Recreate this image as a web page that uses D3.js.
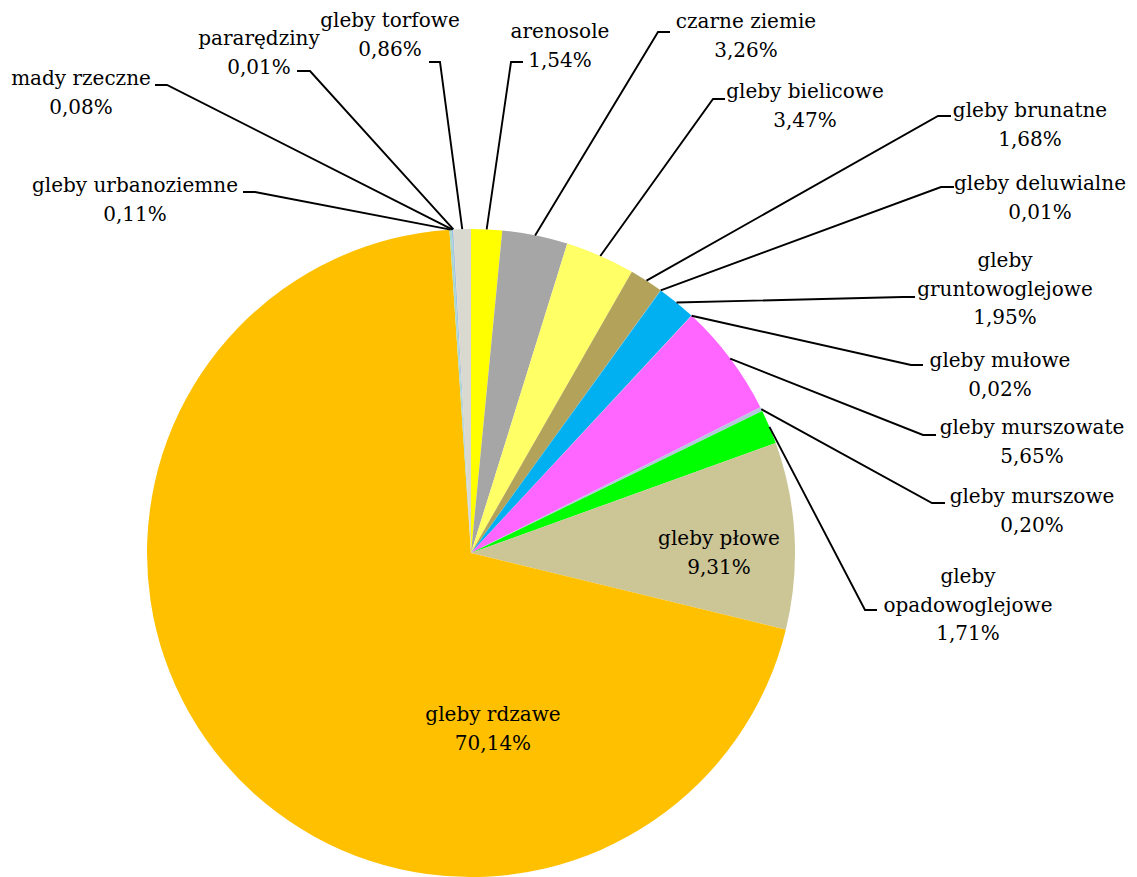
<!DOCTYPE html>
<html lang="pl">
<head>
<meta charset="utf-8">
<script src="https://cdn.jsdelivr.net/npm/d3@7"></script>
<style>
  html, body { margin: 0; padding: 0; background: #fff; }
</style>
</head>
<body>
<svg id="chart" width="1137" height="877"></svg>
<script>
// Soil types and their share of the area (%), clockwise from 12 o'clock
const categories = [
  "arenosole", "czarne ziemie", "gleby bielicowe", "gleby brunatne",
  "gleby deluwialne", "gleby gruntowoglejowe", "gleby mułowe",
  "gleby murszowate", "gleby murszowe", "gleby opadowoglejowe",
  "gleby płowe", "gleby rdzawe", "gleby urbanoziemne", "mady rzeczne",
  "pararędziny", "gleby torfowe"
];
const shares = [
  1.54, 3.26, 3.47, 1.68,
  0.01, 1.95, 0.02,
  5.65, 0.20, 1.71,
  9.31, 70.14, 0.11, 0.08,
  0.01, 0.86
];
const colors = [
  "#FFFF00", "#A6A6A6", "#FFFF66", "#B3A35A",
  "#8FAADC", "#00B0F0", "#C9A0DC",
  "#FF66FF", "#B4C7DC", "#00FF00",
  "#CCC596", "#FFC000", "#A9D8C8", "#9DC3E6",
  "#F4B183", "#D9D9D0"
];
// How each label is broken into lines
const labelLines = [
  ["arenosole"], ["czarne ziemie"], ["gleby bielicowe"], ["gleby brunatne"],
  ["gleby deluwialne"], ["gleby", "gruntowoglejowe"], ["gleby mułowe"],
  ["gleby murszowate"], ["gleby murszowe"], ["gleby", "opadowoglejowe"],
  ["gleby płowe"], ["gleby rdzawe"], ["gleby urbanoziemne"], ["mady rzeczne"],
  ["pararędziny"], ["gleby torfowe"]
];

// Label layout: text centre x, first baseline y, leader elbow (ex, ey) and tick end x (tx); inside labels have no leader
const labelLayout = [
  { x: 560,  y: 38,  ex: 511, ey: 62,  tx: 523 },
  { x: 746,  y: 28,  ex: 658, ey: 32,  tx: 670 },
  { x: 805,  y: 98,  ex: 713, ey: 99,  tx: 725 },
  { x: 1030, y: 117, ex: 938, ey: 116, tx: 951 },
  { x: 1040, y: 190, ex: 941, ey: 187, tx: 954 },
  { x: 1005, y: 267, ex: 903, ey: 297, tx: 915 },
  { x: 1000, y: 367, ex: 911, ey: 365, tx: 923 },
  { x: 1032, y: 434, ex: 923, ey: 435, tx: 936 },
  { x: 1032, y: 503, ex: 932, ey: 503, tx: 945 },
  { x: 968,  y: 583, ex: 865, ey: 610, tx: 877 },
  { x: 719,  y: 545 },
  { x: 493,  y: 721 },
  { x: 135,  y: 192, ex: 255, ey: 192, tx: 243 },
  { x: 81,   y: 85,  ex: 167, ey: 85,  tx: 155 },
  { x: 259,  y: 45,  ex: 310, ey: 71,  tx: 297 },
  { x: 390,  y: 27,  ex: 440, ey: 62,  tx: 429 }
];

const fmt = v => d3.format(".2f")(v).replace(".", ",") + "%";

const svg = d3.select("#chart");
const cx = 471, cy = 553, radius = 324;
const fontSize = 20, lineGap = 28.5;
const fontFamily = "'DejaVu Serif', serif";

const data = categories.map((c, i) => ({
  name: c, value: shares[i], color: colors[i],
  lines: labelLines[i], layout: labelLayout[i]
}));

const pie = d3.pie().value(d => d.value).sort(null)
  .startAngle(0).endAngle(2 * Math.PI);
const arcs = pie(data);
const arc = d3.arc().innerRadius(0).outerRadius(radius);

const g = svg.append("g").attr("transform", `translate(${cx},${cy})`);

g.selectAll("path.slice")
  .data(arcs)
  .join("path")
  .attr("class", "slice")
  .attr("d", arc)
  .attr("fill", d => d.data.color);

// Leader lines from the middle of each slice's outer edge
const leaders = svg.append("g")
  .attr("fill", "none")
  .attr("stroke", "#000")
  .attr("stroke-width", 1.9);

arcs.forEach(a => {
  const L = a.data.layout;
  if (L.ex === undefined) return;
  const mid = (a.startAngle + a.endAngle) / 2;
  const px = cx + radius * Math.sin(mid);
  const py = cy - radius * Math.cos(mid);
  leaders.append("path")
    .attr("d", d3.line()([[px, py], [L.ex, L.ey], [L.tx, L.ey]]));
});

// Labels: category name lines followed by the share
const labels = svg.append("g")
  .attr("font-family", fontFamily)
  .attr("font-size", fontSize)
  .attr("fill", "#000")
  .attr("text-anchor", "middle");

arcs.forEach(a => {
  const L = a.data.layout;
  const lines = a.data.lines.concat([fmt(a.data.value)]);
  const t = labels.append("text").attr("x", L.x).attr("y", L.y);
  lines.forEach((s, k) => {
    t.append("tspan").attr("x", L.x).attr("dy", k === 0 ? 0 : lineGap).text(s);
  });
});
</script>
</body>
</html>
